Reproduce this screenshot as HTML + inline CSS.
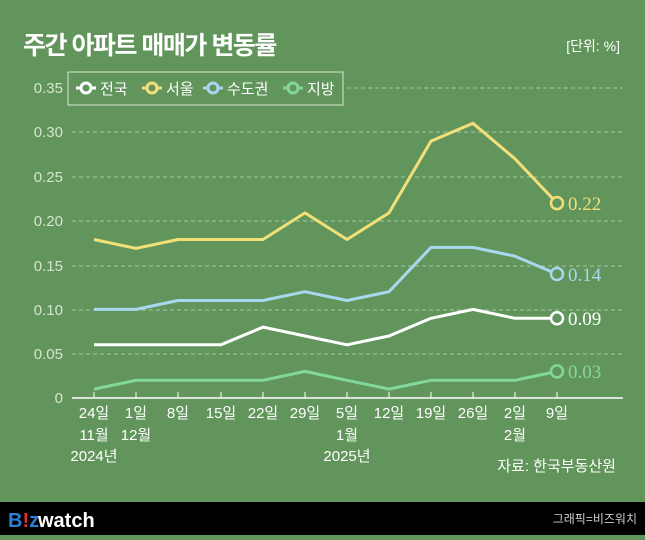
<!DOCTYPE html>
<html><head><meta charset="utf-8"><style>
body{margin:0;width:645px;height:535px;overflow:hidden;background:#62955b;font-family:"Liberation Sans","Noto Sans CJK KR",sans-serif}
</style></head><body>
<svg width="645" height="535" xmlns="http://www.w3.org/2000/svg" font-family="Liberation Sans, Noto Sans CJK KR, sans-serif">
<rect width="645" height="535" fill="#62955b"/>
<text x="23" y="54" font-size="25" font-weight="bold" fill="#fff" letter-spacing="-1.5">주간 아파트 매매가 변동률</text>
<text x="620" y="51" font-size="14" fill="#fff" text-anchor="end">[단위: %]</text>
<g stroke="#a8c8a0" stroke-dasharray="4,3" stroke-width="1">
<line x1="340" y1="88" x2="623" y2="88"/>
<line x1="72" y1="132" x2="623" y2="132"/><line x1="72" y1="177" x2="623" y2="177"/>
<line x1="72" y1="221" x2="623" y2="221"/><line x1="72" y1="266" x2="623" y2="266"/>
<line x1="72" y1="310" x2="623" y2="310"/><line x1="72" y1="354" x2="623" y2="354"/>
</g>
<line x1="72" y1="398" x2="623" y2="398" stroke="#fff" stroke-width="1.5"/>
<g stroke="#fff" stroke-width="1"><line x1="94" y1="392" x2="94" y2="398"/><line x1="136" y1="392" x2="136" y2="398"/><line x1="178" y1="392" x2="178" y2="398"/><line x1="221" y1="392" x2="221" y2="398"/><line x1="263" y1="392" x2="263" y2="398"/><line x1="305" y1="392" x2="305" y2="398"/><line x1="347" y1="392" x2="347" y2="398"/><line x1="389" y1="392" x2="389" y2="398"/><line x1="431" y1="392" x2="431" y2="398"/><line x1="473" y1="392" x2="473" y2="398"/><line x1="515" y1="392" x2="515" y2="398"/><line x1="557" y1="392" x2="557" y2="398"/></g>
<g font-size="15" fill="#d5e5d0" text-anchor="end">
<text x="63" y="93">0.35</text><text x="63" y="137">0.30</text><text x="63" y="182">0.25</text><text x="63" y="226">0.20</text><text x="63" y="271">0.15</text><text x="63" y="315">0.10</text><text x="63" y="359">0.05</text><text x="63" y="403">0</text>
</g>
<rect x="68" y="72" width="275" height="33" fill="#62955b" stroke="#d8e8d0" stroke-width="1"/>
<g stroke-width="3" fill="#62955b">
<line x1="76" y1="88" x2="96" y2="88" stroke="#fff"/><circle cx="86" cy="88" r="5" stroke="#fff"/>
<line x1="142" y1="88" x2="162" y2="88" stroke="#f1e07a"/><circle cx="152" cy="88" r="5" stroke="#f1e07a"/>
<line x1="203" y1="88" x2="223" y2="88" stroke="#a8d8ee"/><circle cx="213" cy="88" r="5" stroke="#a8d8ee"/>
<line x1="283" y1="88" x2="303" y2="88" stroke="#82d89a"/><circle cx="293" cy="88" r="5" stroke="#82d89a"/>
</g>
<g font-size="15" fill="#fff"><text x="100" y="94">전국</text><text x="166" y="94">서울</text><text x="227" y="94">수도권</text><text x="307" y="94">지방</text></g>
<g fill="none" stroke-width="3" stroke-linejoin="round">
<polyline stroke="#f1e07a" points="94,239.5 136,248.4 178,239.5 221,239.5 263,239.5 305,212.9 347,239.5 389,212.9 431,141.1 473,123.3 515,158.8 557,203.1"/>
<polyline stroke="#a8d8ee" points="94,309.4 136,309.4 178,300.5 221,300.5 263,300.5 305,291.7 347,300.5 389,291.7 431,247.4 473,247.4 515,256.2 557,274"/>
<polyline stroke="#fff" points="94,344.8 136,344.8 178,344.8 221,344.8 263,327.1 305,336 347,344.8 389,336 431,318.3 473,309.4 515,318.3 557,318.3"/>
<polyline stroke="#82d89a" points="94,389.1 136,380.3 178,380.3 221,380.3 263,380.3 305,371.4 347,380.3 389,389.1 431,380.3 473,380.3 515,380.3 557,371.4"/>
</g>
<g fill="#62955b" stroke-width="2.5">
<circle cx="557" cy="203.1" r="6" stroke="#f1e07a"/><circle cx="557" cy="274" r="6" stroke="#a8d8ee"/>
<circle cx="557" cy="318.3" r="6" stroke="#fff"/><circle cx="557" cy="371.4" r="6" stroke="#82d89a"/>
</g>
<g font-family="Liberation Serif, serif" font-size="19">
<text x="568" y="210" fill="#f1e07a">0.22</text><text x="568" y="281" fill="#a8d8ee">0.14</text>
<text x="568" y="325" fill="#fff">0.09</text><text x="568" y="378" fill="#82d89a">0.03</text>
</g>
<g font-size="15" fill="#fff" text-anchor="middle">
<text x="94" y="418">24일</text><text x="136" y="418">1일</text><text x="178" y="418">8일</text><text x="221" y="418">15일</text><text x="263" y="418">22일</text><text x="305" y="418">29일</text><text x="347" y="418">5일</text><text x="389" y="418">12일</text><text x="431" y="418">19일</text><text x="473" y="418">26일</text><text x="515" y="418">2일</text><text x="557" y="418">9일</text>
<text x="94" y="440">11월</text><text x="136" y="440">12월</text><text x="347" y="440">1월</text><text x="515" y="440">2월</text>
<text x="94" y="461">2024년</text><text x="347" y="461">2025년</text>
</g>
<text x="616" y="471" font-size="15" fill="#fff" text-anchor="end">자료: 한국부동산원</text>
<rect x="0" y="502" width="645" height="33" fill="#000"/>
<text x="8" y="527" font-size="20" font-weight="bold" fill="#2a7fd4">B<tspan fill="#e03030">!</tspan>z</text>
<text x="38" y="527" font-size="20" font-weight="bold" fill="#fff">watch</text>
<text x="637" y="523" font-size="12" fill="#ccc" text-anchor="end">그래픽=비즈워치</text>
</svg>
</body></html>
